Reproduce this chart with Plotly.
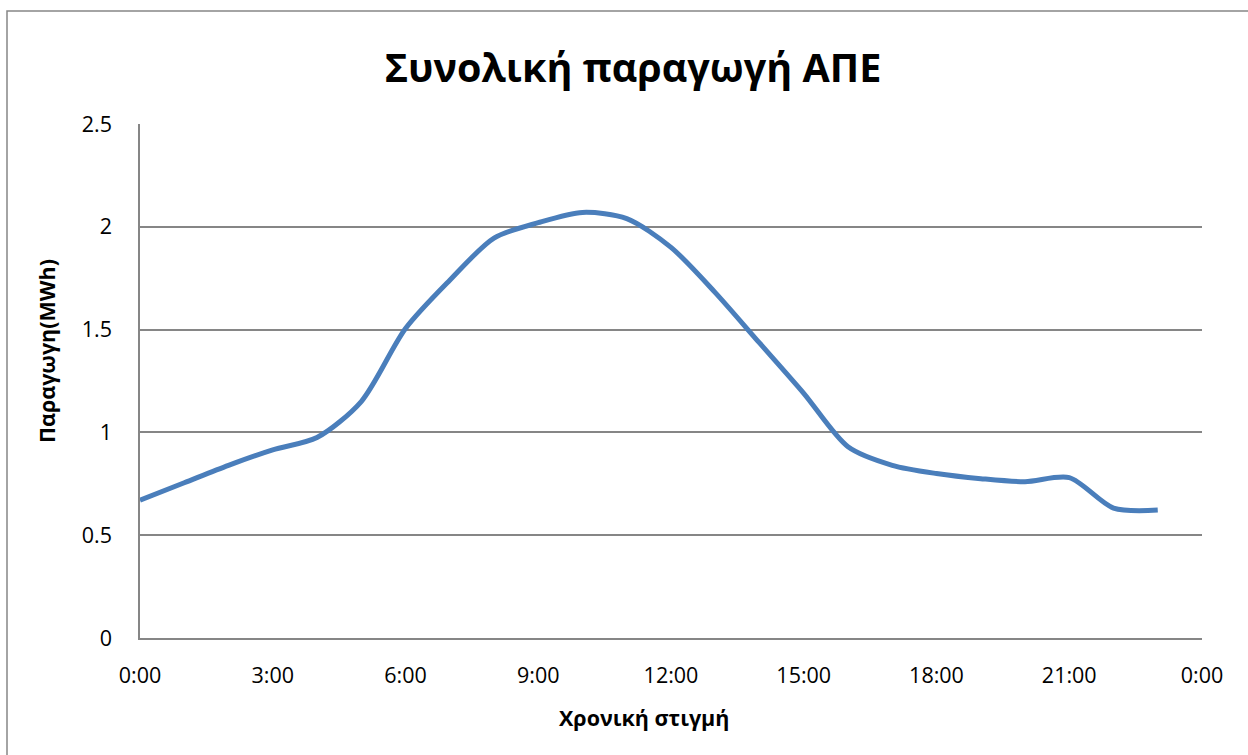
import plotly.graph_objects as go

# Data (hourly values)
hours = list(range(24))
production = [0.67, 0.755, 0.84, 0.915, 0.975, 1.15, 1.505, 1.74, 1.945, 2.02, 2.07, 2.04,
              1.90, 1.68, 1.435, 1.19, 0.93, 0.84, 0.80, 0.775, 0.76, 0.78, 0.632, 0.622]
tick_hours = [0, 3, 6, 9, 12, 15, 18, 21, 24]
tick_labels = ["0:00", "3:00", "6:00", "9:00", "12:00", "15:00", "18:00", "21:00", "0:00"]
y_ticks = [0, 0.5, 1, 1.5, 2, 2.5]
y_labels = ["0", "0.5", "1", "1.5", "2", "2.5"]

title = "Συνολική παραγωγή ΑΠΕ"
x_title = "Χρονική στιγμή"
y_title = "Παραγωγη(MWh)"

W, H = 1248, 755
L, R, T, B = 140, 46, 124, 117
pw, ph = W - L - R, H - T - B

font_family = "Open Sans, Noto Sans, DejaVu Sans, sans-serif"
grid_col = "#868686"

fig = go.Figure()
fig.add_trace(go.Scatter(
    x=hours, y=production, mode="lines",
    line=dict(color="#4A7EBB", width=5, shape="spline", smoothing=0.8),
    showlegend=False, hoverinfo="x+y",
))

fig.update_layout(
    width=W, height=H,
    margin=dict(l=L, r=R, t=T, b=B),
    paper_bgcolor="white", plot_bgcolor="white",
    font=dict(family=font_family, color="black"),
    title=dict(text="<b>" + title + "</b>", x=633 / W, xanchor="center",
               y=1 - 68 / H, yanchor="middle", font=dict(size=39.5, family=font_family)),
    xaxis=dict(range=[0, 24], tickvals=tick_hours, ticktext=tick_labels,
               showgrid=False, zeroline=False, showline=True, linecolor=grid_col, linewidth=1.5,
               ticks="outside", ticklen=17, tickcolor="rgba(0,0,0,0)",
               tickfont=dict(size=21.5, family=font_family)),
    yaxis=dict(range=[0, 2.5], tickvals=y_ticks, ticktext=y_labels,
               showgrid=True, gridcolor=grid_col, gridwidth=1.5, zeroline=False,
               showline=True, linecolor=grid_col, linewidth=1.5,
               ticks="outside", ticklen=22, tickcolor="rgba(0,0,0,0)",
               tickfont=dict(size=21.5, family=font_family)),
    annotations=[
        dict(text="<b>" + x_title + "</b>", xref="paper", yref="paper",
             x=(644 - L) / pw, y=-(717 - (T + ph)) / ph, xanchor="center", yanchor="middle",
             showarrow=False, font=dict(size=21.5, family=font_family)),
        dict(text="<b>" + y_title + "</b>", xref="paper", yref="paper",
             x=(46 - L) / pw, y=(T + ph - 351) / ph, xanchor="center", yanchor="middle",
             textangle=-90, showarrow=False, font=dict(size=21.5, family=font_family)),
    ],
    shapes=[
        dict(type="rect", xref="paper", yref="paper",
             x0=(7 - L) / pw, x1=(W + 20 - L) / pw,
             y0=-(H + 20 - (T + ph)) / ph, y1=(T + ph - 11) / ph,
             line=dict(color=grid_col, width=1.5), fillcolor="rgba(0,0,0,0)", layer="below"),
    ],
)

fig.write_html("out.html",
               config={"displayModeBar": False},
               post_script="document.body.style.margin='0';document.body.style.overflow='hidden';")
